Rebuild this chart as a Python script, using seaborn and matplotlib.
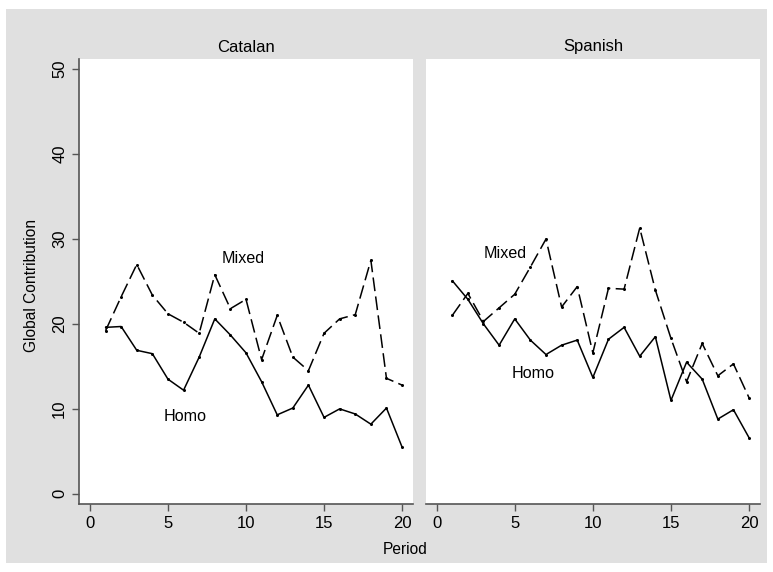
import matplotlib
matplotlib.use("Agg")
import matplotlib.pyplot as plt
import seaborn as sns
import pandas as pd
from matplotlib.patches import Rectangle

periods = list(range(1, 21))
panels = ["Catalan", "Spanish"]

catalan_homo = [19.6, 19.7, 16.9, 16.5, 13.5, 12.2, 16.1, 20.6, 18.7, 16.6,
                13.2, 9.3, 10.1, 12.8, 9.0, 10.0, 9.4, 8.2, 10.1, 5.5]
catalan_mixed = [19.2, 23.2, 27.0, 23.4, 21.2, 20.2, 18.9, 25.8, 21.8, 22.9,
                 15.8, 21.0, 16.1, 14.5, 18.9, 20.6, 21.1, 27.5, 13.6, 12.8]
spanish_homo = [25.1, 22.9, 20.0, 17.5, 20.6, 18.1, 16.4, 17.5, 18.1, 13.7,
                18.2, 19.6, 16.2, 18.5, 11.0, 15.5, 13.5, 8.8, 9.9, 6.6]
spanish_mixed = [21.0, 23.6, 20.3, 21.9, 23.5, 26.7, 30.0, 22.0, 24.4, 16.6,
                 24.2, 24.1, 31.3, 24.0, 18.3, 13.2, 17.7, 13.9, 15.3, 11.3]

series = {
    "Catalan": {"Homo": catalan_homo, "Mixed": catalan_mixed},
    "Spanish": {"Homo": spanish_homo, "Mixed": spanish_mixed},
}
x_ticks = [0, 5, 10, 15, 20]
y_ticks = [0, 10, 20, 30, 40, 50]

rows = []
for p in panels:
    for g, vals in series[p].items():
        for t, v in zip(periods, vals):
            rows.append({"panel": p, "group": g, "Period": t, "value": v})
df = pd.DataFrame(rows)

sns.set_style("white")
plt.rcParams["font.family"] = ["Liberation Sans", "DejaVu Sans"]
plt.rcParams["text.color"] = "black"
plt.rcParams["axes.labelcolor"] = "black"

W, H = 773, 572
fig = plt.figure(figsize=(W / 100, H / 100), dpi=100)
fig.patch.set_facecolor("white")

bg = fig.add_axes([0, 0, 1, 1], zorder=-10)
bg.set_xlim(0, W)
bg.set_ylim(H, 0)
bg.axis("off")
bg.add_patch(Rectangle((6, 9), 767 - 6, 563 - 9, facecolor="#e0e0e0",
                       edgecolor="none"))

axL = fig.add_axes([79 / W, 1 - 504 / H, (413 - 79) / W, (504 - 59) / H])
axR = fig.add_axes([425.7 / W, 1 - 504 / H, (760 - 425.7) / W, (504 - 59) / H])
axes = {"Catalan": axL, "Spanish": axR}

label_pos = {
    "Catalan": {"Mixed": (9.83, 27.7), "Homo": (6.12, 9.1)},
    "Spanish": {"Mixed": (4.4, 28.35), "Homo": (6.19, 14.2)},
}

spine_col = "#555555"
for p in panels:
    ax = axes[p]
    ax.set_facecolor("white")
    sub = df[df["panel"] == p]
    sns.lineplot(data=sub, x="Period", y="value", style="group",
                 dashes={"Homo": "", "Mixed": (9, 3.5)},
                 style_order=["Homo", "Mixed"],
                 color="black", linewidth=1.1, marker="o", markersize=2.2,
                 markeredgewidth=0, legend=False, ax=ax, estimator=None)
    ax.set_xlim(-0.7, 20.7)
    ax.set_ylim(-1.2, 51.2)
    ax.set_xticks(x_ticks)
    ax.set_yticks(y_ticks)
    ax.set_xlabel("")
    ax.set_ylabel("")
    for s in ["top", "right"]:
        ax.spines[s].set_visible(False)
    ax.spines["bottom"].set_color(spine_col)
    ax.spines["bottom"].set_linewidth(1.2)
    ax.tick_params(axis="both", colors=spine_col, labelcolor="black",
                   length=5, width=1, direction="out", labelsize=12, pad=3.5,
                   bottom=True, left=True)
    ax.text(0.5, 1 + 12 / 445, p, transform=ax.transAxes, ha="center",
            va="center", fontsize=12, color="black")
    for g, (lx, ly) in label_pos[p].items():
        ax.text(lx, ly, g, ha="center", va="center", fontsize=11.6,
                color="black")

axL.spines["left"].set_color(spine_col)
axL.spines["left"].set_linewidth(1.2)
for lab in axL.get_yticklabels():
    lab.set_rotation(90)
    lab.set_va("center")
axR.spines["left"].set_visible(False)
axR.tick_params(axis="y", left=False, labelleft=False)

fig.text(32 / W, 1 - 285 / H, "Global Contribution", rotation=90,
         ha="center", va="center", fontsize=11.2, color="black")
fig.text(405 / W, 1 - 549 / H, "Period", ha="center", va="center",
         fontsize=11.2, color="black")

fig.savefig("out.png", dpi=100, facecolor="white")
